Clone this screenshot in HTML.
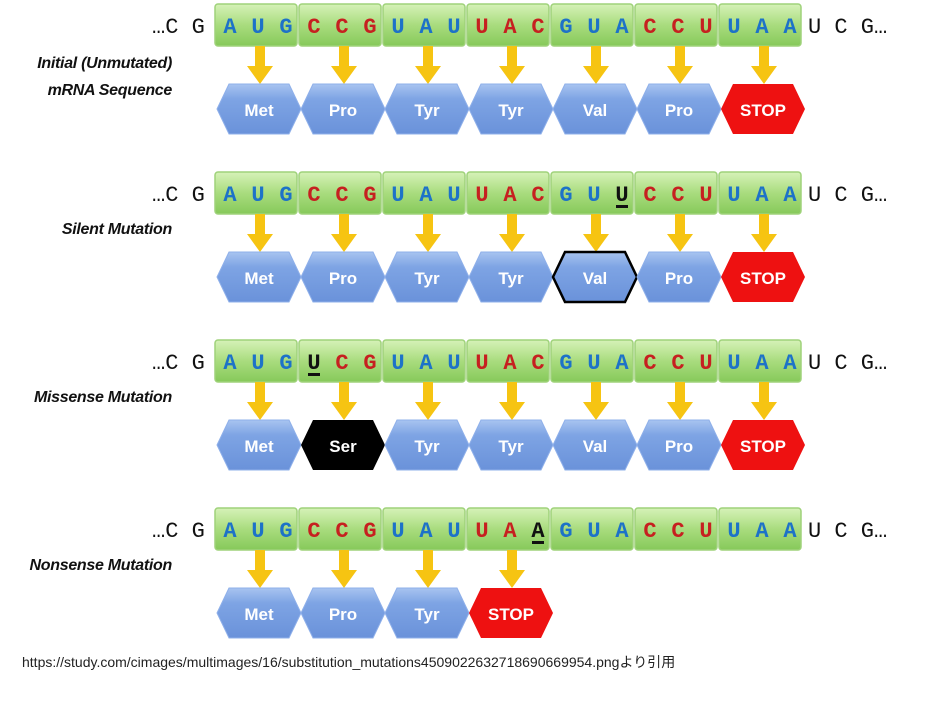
<!DOCTYPE html>
<html><head><meta charset="utf-8"><style>
body{margin:0;background:#fff;width:948px;height:698px;overflow:hidden}
svg text{font-family:"Liberation Sans",sans-serif}
.c{font-family:"Liberation Mono",monospace;font-weight:bold;font-size:22px;text-anchor:middle}
.b{fill:#1d72c8}.r{fill:#c62020}.k{fill:#111}
.h{fill:#fff;font-weight:bold;font-size:17px;text-anchor:middle}
.l{font-style:italic;font-weight:bold;font-size:16px;text-anchor:end;fill:#111;letter-spacing:-0.3px}
.p{font-family:"Liberation Mono",monospace;font-size:22px;fill:#111}
</style></head><body>
<svg width="948" height="698" xmlns="http://www.w3.org/2000/svg">
<defs>
<linearGradient id="g" x1="0" y1="0" x2="0" y2="1"><stop offset="0" stop-color="#d6f2b8"/><stop offset="0.5" stop-color="#a9dc7e"/><stop offset="1" stop-color="#86c95a"/></linearGradient>
<linearGradient id="bl" x1="0" y1="0" x2="0" y2="1"><stop offset="0" stop-color="#a8c4f0"/><stop offset="0.3" stop-color="#7ea4e4"/><stop offset="1" stop-color="#6a92da"/></linearGradient>
<g id="box"><rect x="1" y="4" width="82" height="42" rx="3" fill="url(#g)" stroke="#9fd27a" stroke-width="1.5"/></g>
<g id="ar"><polygon points="37,46 47,46 47,66 55,66 42,84 29,66 37,66" fill="#f6c412"/></g>
<g id="hx"><polygon points="3,109 15,84 75,84 87,109 75,134 15,134" fill="url(#bl)" stroke="#8fb0ea" stroke-width="1"/></g>
<g id="st"><polygon points="3,109 15,84 75,84 87,109 75,134 15,134" fill="#ee1111"/></g>
<g id="row">
<use href="#box" x="214"/><use href="#box" x="298"/><use href="#box" x="382"/><use href="#box" x="466"/><use href="#box" x="550"/><use href="#box" x="634"/><use href="#box" x="718"/>
</g>
</defs>
<!-- Row 1 -->
<g>
<use href="#row"/>
<text class="p" x="152" y="33">…C G</text>
<text class="c b" x="230" y="33">A</text><text class="c b" x="258" y="33">U</text><text class="c b" x="286" y="33">G</text>
<text class="c r" x="314" y="33">C</text><text class="c r" x="342" y="33">C</text><text class="c r" x="370" y="33">G</text>
<text class="c b" x="398" y="33">U</text><text class="c b" x="426" y="33">A</text><text class="c b" x="454" y="33">U</text>
<text class="c r" x="482" y="33">U</text><text class="c r" x="510" y="33">A</text><text class="c r" x="538" y="33">C</text>
<text class="c b" x="566" y="33">G</text><text class="c b" x="594" y="33">U</text><text class="c b" x="622" y="33">A</text>
<text class="c r" x="650" y="33">C</text><text class="c r" x="678" y="33">C</text><text class="c r" x="706" y="33">U</text>
<text class="c b" x="734" y="33">U</text><text class="c b" x="762" y="33">A</text><text class="c b" x="790" y="33">A</text>
<text class="p" x="808" y="33">U C G…</text>
<use href="#ar" x="218"/><use href="#ar" x="302"/><use href="#ar" x="386"/><use href="#ar" x="470"/><use href="#ar" x="554"/><use href="#ar" x="638"/><use href="#ar" x="722"/>
<use href="#hx" x="214"/><use href="#hx" x="298"/><use href="#hx" x="382"/><use href="#hx" x="466"/><use href="#hx" x="550"/><use href="#hx" x="634"/><use href="#st" x="718"/>
<text class="h" x="259" y="116">Met</text><text class="h" x="343" y="116">Pro</text><text class="h" x="427" y="116">Tyr</text><text class="h" x="511" y="116">Tyr</text><text class="h" x="595" y="116">Val</text><text class="h" x="679" y="116">Pro</text><text class="h" x="763" y="116">STOP</text>
<text class="l" x="172" y="68">Initial (Unmutated)</text>
<text class="l" x="172" y="95">mRNA Sequence</text>
</g>
<!-- Row 2 -->
<g transform="translate(0,168)">
<use href="#row"/>
<text class="p" x="152" y="33">…C G</text>
<text class="c b" x="230" y="33">A</text><text class="c b" x="258" y="33">U</text><text class="c b" x="286" y="33">G</text>
<text class="c r" x="314" y="33">C</text><text class="c r" x="342" y="33">C</text><text class="c r" x="370" y="33">G</text>
<text class="c b" x="398" y="33">U</text><text class="c b" x="426" y="33">A</text><text class="c b" x="454" y="33">U</text>
<text class="c r" x="482" y="33">U</text><text class="c r" x="510" y="33">A</text><text class="c r" x="538" y="33">C</text>
<text class="c b" x="566" y="33">G</text><text class="c b" x="594" y="33">U</text><text class="c k" x="622" y="33">U</text>
<rect x="616" y="37" width="12" height="3" fill="#111"/>
<text class="c r" x="650" y="33">C</text><text class="c r" x="678" y="33">C</text><text class="c r" x="706" y="33">U</text>
<text class="c b" x="734" y="33">U</text><text class="c b" x="762" y="33">A</text><text class="c b" x="790" y="33">A</text>
<text class="p" x="808" y="33">U C G…</text>
<use href="#ar" x="218"/><use href="#ar" x="302"/><use href="#ar" x="386"/><use href="#ar" x="470"/><use href="#ar" x="554"/><use href="#ar" x="638"/><use href="#ar" x="722"/>
<use href="#hx" x="214"/><use href="#hx" x="298"/><use href="#hx" x="382"/><use href="#hx" x="466"/>
<polygon points="553,109 565,84 625,84 637,109 625,134 565,134" fill="url(#bl)" stroke="#000" stroke-width="2.5"/>
<use href="#hx" x="634"/><use href="#st" x="718"/>
<text class="h" x="259" y="116">Met</text><text class="h" x="343" y="116">Pro</text><text class="h" x="427" y="116">Tyr</text><text class="h" x="511" y="116">Tyr</text><text class="h" x="595" y="116">Val</text><text class="h" x="679" y="116">Pro</text><text class="h" x="763" y="116">STOP</text>
<text class="l" x="172" y="66">Silent Mutation</text>
</g>
<!-- Row 3 -->
<g transform="translate(0,336)">
<use href="#row"/>
<text class="p" x="152" y="33">…C G</text>
<text class="c b" x="230" y="33">A</text><text class="c b" x="258" y="33">U</text><text class="c b" x="286" y="33">G</text>
<text class="c k" x="314" y="33">U</text><rect x="308" y="37" width="12" height="3" fill="#111"/><text class="c r" x="342" y="33">C</text><text class="c r" x="370" y="33">G</text>
<text class="c b" x="398" y="33">U</text><text class="c b" x="426" y="33">A</text><text class="c b" x="454" y="33">U</text>
<text class="c r" x="482" y="33">U</text><text class="c r" x="510" y="33">A</text><text class="c r" x="538" y="33">C</text>
<text class="c b" x="566" y="33">G</text><text class="c b" x="594" y="33">U</text><text class="c b" x="622" y="33">A</text>
<text class="c r" x="650" y="33">C</text><text class="c r" x="678" y="33">C</text><text class="c r" x="706" y="33">U</text>
<text class="c b" x="734" y="33">U</text><text class="c b" x="762" y="33">A</text><text class="c b" x="790" y="33">A</text>
<text class="p" x="808" y="33">U C G…</text>
<use href="#ar" x="218"/><use href="#ar" x="302"/><use href="#ar" x="386"/><use href="#ar" x="470"/><use href="#ar" x="554"/><use href="#ar" x="638"/><use href="#ar" x="722"/>
<use href="#hx" x="214"/>
<polygon points="301,109 313,84 373,84 385,109 373,134 313,134" fill="#000"/>
<use href="#hx" x="382"/><use href="#hx" x="466"/><use href="#hx" x="550"/><use href="#hx" x="634"/><use href="#st" x="718"/>
<text class="h" x="259" y="116">Met</text><text class="h" x="343" y="116">Ser</text><text class="h" x="427" y="116">Tyr</text><text class="h" x="511" y="116">Tyr</text><text class="h" x="595" y="116">Val</text><text class="h" x="679" y="116">Pro</text><text class="h" x="763" y="116">STOP</text>
<text class="l" x="172" y="66">Missense Mutation</text>
</g>
<!-- Row 4 -->
<g transform="translate(0,504)">
<use href="#row"/>
<text class="p" x="152" y="33">…C G</text>
<text class="c b" x="230" y="33">A</text><text class="c b" x="258" y="33">U</text><text class="c b" x="286" y="33">G</text>
<text class="c r" x="314" y="33">C</text><text class="c r" x="342" y="33">C</text><text class="c r" x="370" y="33">G</text>
<text class="c b" x="398" y="33">U</text><text class="c b" x="426" y="33">A</text><text class="c b" x="454" y="33">U</text>
<text class="c r" x="482" y="33">U</text><text class="c r" x="510" y="33">A</text><text class="c k" x="538" y="33">A</text><rect x="532" y="37" width="12" height="3" fill="#111"/>
<text class="c b" x="566" y="33">G</text><text class="c b" x="594" y="33">U</text><text class="c b" x="622" y="33">A</text>
<text class="c r" x="650" y="33">C</text><text class="c r" x="678" y="33">C</text><text class="c r" x="706" y="33">U</text>
<text class="c b" x="734" y="33">U</text><text class="c b" x="762" y="33">A</text><text class="c b" x="790" y="33">A</text>
<text class="p" x="808" y="33">U C G…</text>
<use href="#ar" x="218"/><use href="#ar" x="302"/><use href="#ar" x="386"/><use href="#ar" x="470"/>
<use href="#hx" x="214"/><use href="#hx" x="298"/><use href="#hx" x="382"/><use href="#st" x="466"/>
<text class="h" x="259" y="116">Met</text><text class="h" x="343" y="116">Pro</text><text class="h" x="427" y="116">Tyr</text><text class="h" x="511" y="116">STOP</text>
<text class="l" x="172" y="66">Nonsense Mutation</text>
</g>
<text x="22" y="667" style="font-size:14px;fill:#222;font-family:'Liberation Sans','Noto Sans CJK JP',sans-serif">https://study.com/cimages/multimages/16/substitution_mutations4509022632718690669954.pngより引用</text>
</svg>
</body></html>
